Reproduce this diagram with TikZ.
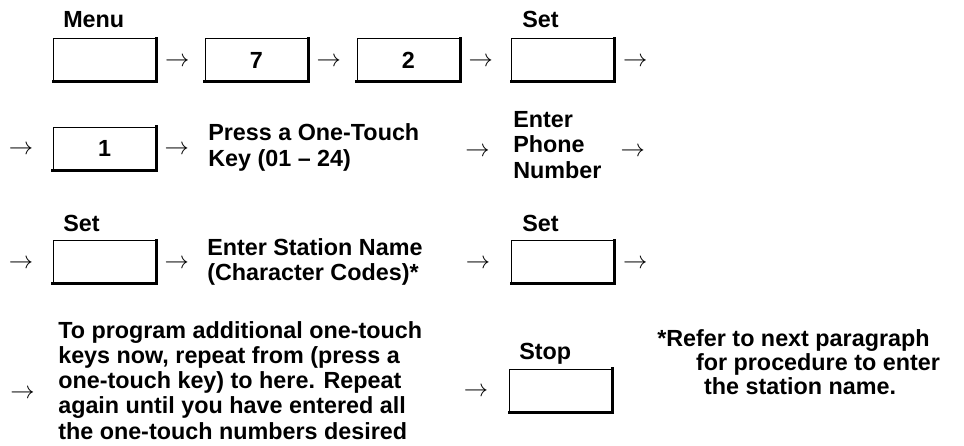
\documentclass[tikz,border=0pt]{standalone}
\usepackage{fontspec}
\setmainfont{Liberation Sans}
\usepackage{tikz}
\usetikzlibrary{positioning}
\tikzset{
  kt diagram/.style={font=\bfseries\fontsize{16.6}{18.1}\selectfont, text=black},
  kt key/.style={draw=black, line width=0.9pt, minimum width=2.56cm,
    minimum height=1.06cm, inner sep=0pt},
  kt shade/.style={draw=black, line width=2pt, line cap=rect},
  kt label/.style={anchor=base west, inner sep=0pt},
  kt text/.style={anchor=west, align=left, inner sep=0pt},
  kt arrow/.style={inner sep=0pt, font=\fontsize{17}{17}\selectfont,
    text height=0.5em, text depth=0pt, yshift=-0.07cm}
}

\begin{document}
\begin{tikzpicture}[kt diagram]
\useasboundingbox (0,0) rectangle (24.1,11.15);
% row 1
\node[kt key] (menu) at (2.625,9.65) {};
\node[kt key] (seven) at (6.41,9.65) {7};
\node[kt key] (two) at (10.21,9.65) {2};
\node[kt key] (setA) at (14.075,9.65) {};
\node[kt label] (menuL) at (1.575,10.45) {Menu};
\node[kt label] (setAL) at (13.05,10.45) {Set};
\node[kt arrow, right=0.2cm of menu] (a1) {$\rightarrow$};
\node[kt arrow, right=0.2cm of seven] (a2) {$\rightarrow$};
\node[kt arrow, right=0.2cm of two] (a3) {$\rightarrow$};
\node[kt arrow, right=0.2cm of setA] (a4) {$\rightarrow$};
% row 2
\node[kt key] (one) at (2.6125,7.4375) {1};
\node[kt text] (press) at (5.2,7.46) {Press a One-Touch\\Key (01 -- 24)};
\node[kt text] (phone) at (12.825,7.53) {Enter\\Phone\\Number};
\node[kt arrow, left=0.48cm of one] (b1) {$\rightarrow$};
\node[kt arrow, right=0.2cm of one] (b2) {$\rightarrow$};
\node[kt arrow] (b3) at (11.94,7.4) {$\rightarrow$};
\node[kt arrow] (b4) at (15.82,7.4) {$\rightarrow$};
% row 3
\node[kt key] (setB) at (2.6125,4.6) {};
\node[kt key] (setC) at (14.075,4.6) {};
\node[kt label] (setBL) at (1.575,5.35) {Set};
\node[kt label] (setCL) at (13.05,5.35) {Set};
\node[kt text] (station) at (5.175,4.6) {Enter Station Name\\(Character Codes)*};
\node[kt arrow, left=0.48cm of setB] (c1) {$\rightarrow$};
\node[kt arrow, right=0.2cm of setB] (c2) {$\rightarrow$};
\node[kt arrow, left=0.52cm of setC] (c3) {$\rightarrow$};
\node[kt arrow, right=0.2cm of setC] (c4) {$\rightarrow$};
% row 4
\node[kt key] (stop) at (14.025,1.3875) {};
\node[kt label] (stopL) at (12.975,2.15) {Stop};
\node[kt text, font=\bfseries\fontsize{16.6}{17.9}\selectfont] (repeat) at (1.45,1.64)
  {To program additional one-touch\\keys now, repeat from (press a\\one-touch key) to here. Repeat\\again until you have entered all\\the one-touch numbers desired};
\node[kt arrow] (d1) at (0.5625,1.35) {$\rightarrow$};
\node[kt arrow, left=0.52cm of stop] (d2) {$\rightarrow$};
\node[kt text, font=\bfseries\fontsize{16.6}{17}\selectfont] (note) at (16.425,2.1)
  {*Refer to next paragraph\\\hspace*{0.97cm}for procedure to enter\\\hspace*{1.17cm}the station name.};
% heavy right and bottom edges of the keys
\foreach \k in {menu,seven,two,setA,one,setB,setC,stop}
  \draw[kt shade] (\k.north east) -- (\k.south east) -- (\k.south west);
\end{tikzpicture}
\end{document}
